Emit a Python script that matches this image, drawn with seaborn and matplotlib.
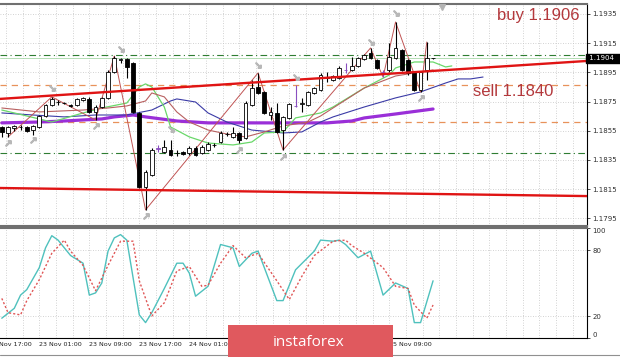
import matplotlib
matplotlib.use("Agg")
import matplotlib.pyplot as plt
import matplotlib.transforms as mtransforms
from matplotlib.patches import Rectangle
from matplotlib.lines import Line2D
import pandas as pd
import seaborn as sns

# EURUSD H1 candles, bar 0 = 22 Nov 19:00 ... bar 69 = 25 Nov 16:00
opens = [1.18576, 1.18535, 1.18569, 1.18576, 1.18576, 1.18555, 1.18576, 1.18651, 1.18727, 1.18747,
         1.18740, 1.18727, 1.18727, 1.18761, 1.18768, 1.18679, 1.18713, 1.18775, 1.18953, 1.19035,
         1.19042, 1.19014, 1.18672, 1.18165, 1.18247, 1.18432, 1.18405, 1.18418, 1.18398, 1.18405,
         1.18398, 1.18432, 1.18398, 1.18418, 1.18453, 1.18473, 1.18528, 1.18508, 1.18535, 1.18501,
         1.18727, 1.18850, 1.18816, 1.18658, 1.18672, 1.18555, 1.18638, 1.18720, 1.18734, 1.18727,
         1.18809, 1.18829, 1.18912, 1.18898, 1.18912, 1.18966, 1.18966, 1.18994, 1.19042, 1.19083,
         1.19035, 1.18953, 1.18966, 1.19049, 1.19103, 1.19035, 1.18953, 1.18829, 1.18966, 1.19049]
highs = [1.18583, 1.18583, 1.18590, 1.18590, 1.18583, 1.18590, 1.18658, 1.18734, 1.18782, 1.18761,
         1.18747, 1.18734, 1.18775, 1.18782, 1.18782, 1.18727, 1.18782, 1.18966, 1.19062, 1.19049,
         1.19049, 1.19021, 1.18679, 1.18282, 1.18432, 1.18453, 1.18487, 1.18487, 1.18418, 1.18412,
         1.18446, 1.18446, 1.18453, 1.18473, 1.18466, 1.18549, 1.18542, 1.18576, 1.18542, 1.18754,
         1.18898, 1.18946, 1.18823, 1.18713, 1.18740, 1.18651, 1.18740, 1.18864, 1.18775, 1.18823,
         1.18850, 1.18946, 1.18953, 1.18932, 1.18994, 1.19014, 1.19055, 1.19055, 1.19076, 1.19117,
         1.19042, 1.18966, 1.19151, 1.19295, 1.19110, 1.19042, 1.18960, 1.18960, 1.19158, 1.19049]
lows = [1.18508, 1.18508, 1.18549, 1.18555, 1.18542, 1.18521, 1.18569, 1.18645, 1.18720, 1.18727,
        1.18734, 1.18713, 1.18720, 1.18754, 1.18672, 1.18624, 1.18706, 1.18768, 1.18946, 1.19014,
        1.18912, 1.18672, 1.18158, 1.18008, 1.18240, 1.18405, 1.18398, 1.18377, 1.18377, 1.18384,
        1.18384, 1.18377, 1.18391, 1.18412, 1.18439, 1.18466, 1.18514, 1.18501, 1.18466, 1.18494,
        1.18720, 1.18802, 1.18665, 1.18624, 1.18535, 1.18418, 1.18631, 1.18713, 1.18679, 1.18720,
        1.18802, 1.18823, 1.18884, 1.18891, 1.18905, 1.18946, 1.18960, 1.18987, 1.19035, 1.19042,
        1.18973, 1.18918, 1.18953, 1.19042, 1.18960, 1.18932, 1.18823, 1.18816, 1.18898, 1.19042]
closes = [1.18542, 1.18576, 1.18583, 1.18578, 1.18549, 1.18583, 1.18651, 1.18727, 1.18768, 1.18750,
          1.18742, 1.18720, 1.18768, 1.18775, 1.18679, 1.18713, 1.18775, 1.18953, 1.19049, 1.19038,
          1.18987, 1.18679, 1.18165, 1.18268, 1.18418, 1.18428, 1.18439, 1.18384, 1.18395, 1.18391,
          1.18432, 1.18384, 1.18439, 1.18460, 1.18450, 1.18535, 1.18531, 1.18535, 1.18487, 1.18740,
          1.18843, 1.18809, 1.18672, 1.18679, 1.18542, 1.18645, 1.18734, 1.18717, 1.18737, 1.18816,
          1.18843, 1.18932, 1.18915, 1.18925, 1.18980, 1.18963, 1.18994, 1.19049, 1.19069, 1.19049,
          1.18980, 1.18950, 1.19055, 1.19117, 1.18966, 1.18946, 1.18829, 1.18953, 1.19049, 1.19045]
violet_doji = [25, 47, 55, 61]

# moving averages (bar, price)
ma_violet_bar = [0, 6, 10, 16, 18, 21, 23, 28, 33, 41, 52, 56, 58, 63, 69]
ma_violet = [1.18604, 1.18610, 1.18617, 1.18631, 1.18645, 1.18658, 1.18645, 1.18617, 1.18604, 1.18604,
             1.18604, 1.18617, 1.18638, 1.18665, 1.18699]
ma_blue_bar = [0, 5, 10, 15, 20, 24, 27, 28, 31, 33, 36, 40, 45, 48, 51, 53, 58, 63, 67, 71, 73, 75, 77]
ma_blue = [1.18672, 1.18658, 1.18645, 1.18658, 1.18658, 1.18692, 1.18754, 1.18768, 1.18747, 1.18672,
           1.18610, 1.18555, 1.18535, 1.18542, 1.18610, 1.18645, 1.18713, 1.18775, 1.18816, 1.18877,
           1.18905, 1.18905, 1.18918]
ma_green_bar = [0, 2, 8, 13, 16, 20, 22, 23, 24, 26, 27, 30, 33, 37, 40, 42, 45, 47, 51, 53, 58, 62, 63,
                66, 69, 71, 72]
ma_green = [1.18692, 1.18672, 1.18610, 1.18672, 1.18706, 1.18740, 1.18850, 1.18871, 1.18850, 1.18713,
            1.18576, 1.18508, 1.18466, 1.18453, 1.18473, 1.18535, 1.18542, 1.18638, 1.18672, 1.18713,
            1.18843, 1.18932, 1.18980, 1.19021, 1.19021, 1.18987, 1.18994]
ma_brown_bar = [0, 6, 13, 17, 20, 23, 24, 26, 28, 30, 33, 36, 39, 42, 45, 49, 51, 53, 58, 63, 66, 69]
ma_brown = [1.18706, 1.18679, 1.18692, 1.18706, 1.18720, 1.18754, 1.18809, 1.18782, 1.18679, 1.18610,
            1.18555, 1.18528, 1.18508, 1.18542, 1.18583, 1.18610, 1.18651, 1.18706, 1.18843, 1.18925,
            1.18946, 1.18966]

# zigzag swing points
zz_bar = [1, 8, 15, 18, 23, 41, 45, 59, 61, 63, 67, 68]
zz_price = [1.18508, 1.18782, 1.18624, 1.19062, 1.18008, 1.18946, 1.18418, 1.19117, 1.18918, 1.19295,
            1.18816, 1.19158]

# fractal arrows
frac_up_bar = [8, 19, 27, 41, 47, 59, 63]
frac_up = [1.18843, 1.19110, 1.18562, 1.19001, 1.18919, 1.19158, 1.19357]
frac_dn_bar = [1, 5, 15, 23, 38, 45, 67]
frac_dn = [1.18466, 1.18487, 1.18583, 1.17967, 1.18418, 1.18371, 1.18775]

# drawn levels
buy_level = 1.1907
sell_level = 1.1840
orange_levels = [1.1886, 1.1861]
bid = 1.19045
upper_trend = [(0, 1.18769), (90, 1.19018)]
lower_trend = [(0, 1.18158), (90, 1.18105)]

# stochastic
stoch_k_bar = [0, 2, 3, 4, 6, 7, 8, 9, 11, 13, 14, 15, 16, 17, 18, 19, 20, 22, 23, 24, 26, 28, 29, 30,
               31, 33, 35, 37, 38, 40, 41, 44, 45, 47, 50, 51, 53, 54, 55, 57, 59, 61, 63, 65, 66, 67, 69]
stoch_k = [18, 27, 39, 44, 64, 82, 93, 89, 75, 68, 39, 41, 50, 79, 91, 94, 89, 21, 14, 23, 45, 68, 68, 59,
           38, 47, 85, 82, 65, 77, 79, 34, 34, 62, 79, 89, 88, 89, 85, 73, 79, 39, 50, 45, 14, 14, 52]
stoch_d_bar = [0, 1, 3, 4, 6, 8, 10, 11, 13, 15, 17, 19, 21, 22, 24, 26, 28, 30, 32, 33, 35, 37, 39, 41,
               44, 46, 48, 50, 53, 55, 56, 58, 61, 63, 65, 66, 68, 69]
stoch_d = [36, 23, 21, 34, 53, 77, 89, 79, 66, 43, 66, 88, 88, 52, 20, 32, 61, 65, 47, 48, 68, 84, 73, 77,
           52, 35, 56, 75, 88, 89, 84, 77, 64, 47, 45, 30, 18, 30]

# time axis: labels hidden under the watermark are left blank
tick_bar = [-2, 6, 14, 22, 30, 38, 46, 54, 62]
tick_text = ["22 Nov 17:00", "23 Nov 01:00", "23 Nov 09:00", "23 Nov 17:00", "24 Nov 01:00",
             "", "", "", "25 Nov 09:00"]
price_ticks = [1.1795, 1.1815, 1.1835, 1.1855, 1.1875, 1.1895, 1.1915, 1.1935]

sns.set_style("white")
plt.rcParams["font.family"] = ["DejaVu Sans"]

fig = plt.figure(figsize=(6.2, 3.57), dpi=100)
ax = fig.add_axes([0, 0.36695, 0.94677, 0.62185])
ax2 = fig.add_axes([0, 0.05322, 0.94677, 0.30812], sharex=ax)

xmin, xmax = -0.288, 93.63
ax.set_xlim(xmin, xmax)
ax.set_ylim(1.17898, 1.19418)
ax2.set_ylim(0, 100)

grid_kw = dict(color="#c4c4c4", lw=0.6, ls=(0, (1, 2)), zorder=0)
vgrid = [tick_bar[0] + k * 8 / 3 for k in range(40)]
for a in (ax, ax2):
    for g in vgrid:
        if xmin < g < xmax:
            a.axvline(g, **grid_kw)
for p in price_ticks:
    ax.axhline(p, **grid_kw)
for v in (20, 80):
    ax2.axhline(v, **grid_kw)

# levels
ax.axhline(buy_level, color="#2e7d32", lw=0.8, ls=(0, (6, 3, 1, 3)), zorder=1)
ax.axhline(sell_level, color="#2e7d32", lw=0.8, ls=(0, (6, 3, 1, 3)), zorder=1)
for lv in orange_levels:
    ax.axhline(lv, color="#e8925a", lw=0.9, ls=(0, (5, 4)), zorder=1)
ax.axhline(bid, color="#a8d8a8", lw=0.6, zorder=1)

# moving averages
for bars, vals, col, lw in [(ma_violet_bar, ma_violet, "#9a2fd8", 2.3),
                            (ma_blue_bar, ma_blue, "#3b3ba6", 0.8),
                            (ma_green_bar, ma_green, "#6ad86a", 0.9),
                            (ma_brown_bar, ma_brown, "#b86060", 0.8)]:
    sns.lineplot(x=bars, y=vals, ax=ax, color=col, lw=lw, zorder=2, sort=False)
sns.lineplot(x=zz_bar, y=zz_price, ax=ax, color="#c05454", lw=0.7, zorder=2, sort=False)

# candles
for i in range(len(opens)):
    o, h, l, c = opens[i], highs[i], lows[i], closes[i]
    col = "#8a4fc0" if i in violet_doji else "black"
    ax.vlines(i, l, h, color=col, lw=0.8, zorder=3)
    body = max(abs(c - o), 0.000025)
    face = "white" if c >= o else "black"
    if i in violet_doji:
        face = col
    ax.bar(i, body, bottom=min(o, c), width=0.62, facecolor=face, edgecolor=col, lw=0.6, zorder=3.1)

# trendlines
ax.axline(upper_trend[0], upper_trend[1], color="#e01414", lw=1.7, zorder=4)
ax.axline(lower_trend[0], lower_trend[1], color="#e01414", lw=1.7, zorder=4)

# fractal arrows
ax.plot(frac_up_bar, frac_up, ls="none", marker="$\\searrow$", ms=4, color="#b8b8b8", zorder=4)
ax.plot(frac_dn_bar, frac_dn, ls="none", marker="$\\nearrow$", ms=4, color="#b8b8b8", zorder=4)
ax.plot([70.4], [0.988], transform=mtransforms.blended_transform_factory(ax.transData, ax.transAxes),
        marker="v", ms=4, color="#b4b4b4", clip_on=False, zorder=5)

ax.text(79.2, 1.19336, "buy 1.1906", family="Liberation Sans", fontsize=12, color="#b3383c",
        ha="left", va="center", zorder=6)
ax.text(75.4, 1.18816, "sell 1.1840", family="Liberation Sans", fontsize=12, color="#b3383c",
        ha="left", va="center", zorder=6)

# stochastic
k_df = pd.DataFrame({"bar": stoch_k_bar, "value": stoch_k})
d_df = pd.DataFrame({"bar": stoch_d_bar, "value": stoch_d})
sns.lineplot(data=k_df, x="bar", y="value", ax=ax2, color="#4fc1bd", lw=1.0, zorder=3)
sns.lineplot(data=d_df, x="bar", y="value", ax=ax2, color="#e05656", lw=1.0, ls=(0, (1.5, 1.5)), zorder=3)

# axes styling
for a in (ax, ax2):
    a.set_xlabel("")
    a.set_ylabel("")
    a.yaxis.tick_right()
    a.spines["left"].set_visible(False)
    a.spines["right"].set_color("black")
    a.spines["right"].set_linewidth(0.8)
    a.tick_params(axis="y", length=2, pad=2, labelsize=5, colors="#303030", width=0.6)
for sp in ("top", "bottom"):
    ax.spines[sp].set_color("#707070")
    ax.spines[sp].set_linewidth(1.5)
ax2.spines["top"].set_color("#707070")
ax2.spines["top"].set_linewidth(1.5)
ax2.spines["bottom"].set_color("black")
ax2.spines["bottom"].set_linewidth(0.8)

ax.set_yticks(price_ticks)
ax.set_yticklabels([f"{p:.4f}" for p in price_ticks])
ax.tick_params(axis="x", bottom=False, labelbottom=False)

ax2.set_yticks([0, 20, 80, 100])
ax2.set_yticklabels(["0", "20", "80", "100"])
ylabs = ax2.get_yticklabels()
ylabs[0].set_va("bottom")
ylabs[3].set_va("top")

ax2.set_xticks([t for t in tick_bar if xmin < t < xmax])
ax2.tick_params(axis="x", length=3, width=0.6, color="black", labelbottom=False)
for t, lab in zip(tick_bar, tick_text):
    if lab:
        ax2.annotate(lab, xy=(t, 0), xycoords=("data", "axes fraction"), xytext=(0, -3),
                     textcoords="offset points", ha="left", va="top", fontsize=4.6, color="#202020",
                     annotation_clip=False)

ax.text(1.0, bid, " 1.1904  ", transform=mtransforms.blended_transform_factory(ax.transAxes, ax.transData),
        ha="left", va="center", fontsize=5, color="white", zorder=7,
        bbox=dict(boxstyle="square,pad=0.2", fc="black", ec="black"))

# watermark
fig.add_artist(Rectangle((228 / 620, 0), 165 / 620, 32 / 357, transform=fig.transFigure,
                         facecolor="#e0595e", edgecolor="none", zorder=10))
fig.text(309 / 620, 1 - 342 / 357, "instaforex", color="white", fontsize=11, family="Open Sans",
         ha="center", va="center", zorder=11)
fig.add_artist(Line2D([0, 1], [1 - 355 / 357] * 2, transform=fig.transFigure, color="#909090", lw=0.8,
                      zorder=9))

fig.savefig("out.png", dpi=100)
plt.close(fig)
